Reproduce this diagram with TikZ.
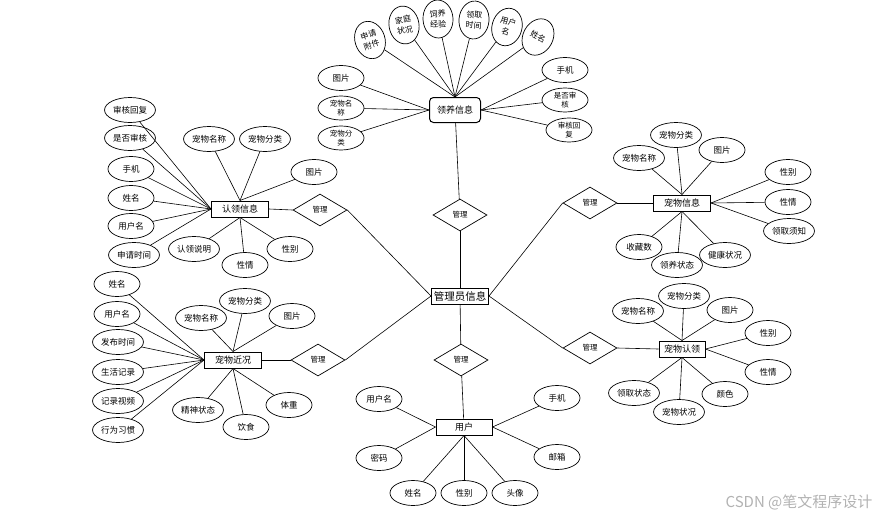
\documentclass[tikz,border=0pt]{standalone}
\usepackage{fontspec}
\setmainfont{Noto Sans CJK SC}
\usetikzlibrary{shapes.geometric,positioning}

\tikzset{
  attr/.style={ellipse, draw, line width=0.7pt, fill=white, inner sep=1pt,
    minimum width=46pt, minimum height=25pt, align=center,
    font=\fontsize{8.5}{9}\selectfont},
  attrtwo/.style={attr, inner sep=0pt, minimum height=24pt,
    font=\fontsize{7.5}{8.5}\selectfont},
  fanattr/.style={attr, inner sep=0pt, minimum width=30pt, minimum height=38pt,
    font=\fontsize{8}{10.5}\selectfont},
  entity/.style={rectangle, draw, line width=1pt, fill=white, inner sep=2pt,
    minimum width=57pt, minimum height=16pt, font=\fontsize{9}{10}\selectfont},
  rel/.style={diamond, draw, line width=0.7pt, fill=white, inner sep=0pt,
    minimum width=54pt, minimum height=32pt, font=\fontsize{7.5}{8}\selectfont},
  link/.style={draw, line width=0.6pt},
}

\begin{document}
\begin{tikzpicture}[x=1pt, y=-1pt]
  \useasboundingbox (0,0) rectangle (886,517);
  % Place central entity and relations
  \node [entity, font=\fontsize{10.5}{11}\selectfont] (gly) at (460,296) {管理员信息};
  \node [rel] (d-top) at (460,215) {管理};
  \node [rel] (d-bot) at (461,360) {管理};
  \node [rel] (d-lu) at (320,210) {管理};
  \node [rel] (d-ll) at (318,360) {管理};
  \node [rel] (d-ru) at (590,203) {管理};
  \node [rel] (d-rl) at (590,348) {管理};
  % Place entities
  \node [entity, rounded corners=4pt, minimum width=51pt, minimum height=25pt] (ly) at (455,110) {领养信息};
  \node [entity] (rl) at (240,209) {认领信息};
  \node [entity] (cj) at (233,360) {宠物近况};
  \node [entity] (cx) at (682,203) {宠物信息};
  \node [entity, minimum width=46pt] (cr) at (682,349) {宠物认领};
  \node [entity, minimum width=56pt] (yh) at (464,427) {用户};
  % Draw relation edges
  \path [link] (d-top) edge (ly) edge (gly);
  \path [link] (gly.west) edge (d-lu.east) edge (d-ll.east);
  \path [link] (gly.east) edge (d-ru.west) edge (d-rl.west);
  \path [link] (d-bot) edge (gly) edge (yh);
  \path [link] (d-lu.west) edge (rl.east);
  \path [link] (d-ll.west) edge (cj.east);
  \path [link] (d-ru.east) edge (cx.west);
  \path [link] (d-rl.east) edge (cr.west);

  % 领养信息
  \node [fanattr, rotate=18] (ly-sqfj) at (370,40) {申请\\附件};
  \node [fanattr, rotate=10] (ly-jtzk) at (404,25) {家庭\\状况};
  \node [fanattr, rotate=3] (ly-syjy) at (438,19) {饲养\\经验};
  \node [fanattr, rotate=-5] (ly-lqsj) at (474,20) {领取\\时间};
  \node [fanattr, rotate=-15] (ly-yhm) at (507,27) {用户\\名};
  \node [fanattr, rotate=-28] (ly-xm) at (538,37) {姓名};
  \node [attr] (ly-tp) at (341,78) {图片};
  \node [attrtwo] (ly-cwmc) at (341,108) {宠物名\\称};
  \node [attrtwo] (ly-cwfl) at (341,138) {宠物分\\类};
  \node [attr] (ly-sj) at (565,70) {手机};
  \node [attrtwo] (ly-sfsh) at (565,100) {是否审\\核};
  \node [attrtwo] (ly-shhf) at (569,130) {审核回\\复};
  \path [link] (ly.north) edge (ly-sqfj) edge (ly-jtzk) edge (ly-syjy)
    edge (ly-lqsj) edge (ly-yhm) edge (ly-xm);
  \path [link] (ly.west) edge (ly-tp) edge (ly-cwmc) edge (ly-cwfl);
  \path [link] (ly.east) edge (ly-sj) edge (ly-sfsh) edge (ly-shhf);

  % 认领信息
  \node [attr] (rl-shhf) at (130,110) {审核回复};
  \node [attr] (rl-sfsh) at (130,138) {是否审核};
  \node [attr] (rl-sj) at (131,169) {手机};
  \node [attr] (rl-xm) at (131,198) {姓名};
  \node [attr] (rl-yhm) at (131,226) {用户名};
  \node [attr] (rl-sqsj) at (134,255) {申请时间};
  \node [attr] (rl-cwmc) at (209,139) {宠物名称};
  \node [attr] (rl-cwfl) at (265,139) {宠物分类};
  \node [attr] (rl-tp) at (314,172) {图片};
  \node [attr] (rl-lysm) at (194,249) {认领说明};
  \node [attr] (rl-xq) at (245,265) {性情};
  \node [attr] (rl-xb) at (290,249) {性别};
  \path [link] (rl.west) edge (rl-shhf) edge (rl-sfsh) edge (rl-sj)
    edge (rl-xm) edge (rl-yhm) edge (rl-sqsj);
  \path [link] (rl.north) edge (rl-cwmc) edge (rl-cwfl) edge (rl-tp);
  \path [link] (rl.south) edge (rl-lysm) edge (rl-xq) edge (rl-xb);

  % 宠物近况
  \node [attr] (cj-xm) at (117,284) {姓名};
  \node [attr] (cj-yhm) at (117,314) {用户名};
  \node [attr] (cj-fbsj) at (118,342) {发布时间};
  \node [attr] (cj-shjl) at (118,372) {生活记录};
  \node [attr] (cj-jlsp) at (118,401) {记录视频};
  \node [attr] (cj-xwxg) at (118,430) {行为习惯};
  \node [attr] (cj-cwmc) at (201,318) {宠物名称};
  \node [attr] (cj-cwfl) at (245,301) {宠物分类};
  \node [attr] (cj-tp) at (292,316) {图片};
  \node [attr] (cj-jszt) at (198,410) {精神状态};
  \node [attr] (cj-ys) at (246,427) {饮食};
  \node [attr] (cj-tz) at (289,405) {体重};
  \path [link] (cj.west) edge (cj-xm) edge (cj-yhm) edge (cj-fbsj)
    edge (cj-shjl) edge (cj-jlsp) edge (cj-xwxg);
  \path [link] (cj.north) edge (cj-cwmc) edge (cj-cwfl) edge (cj-tp);
  \path [link] (cj.south) edge (cj-jszt) edge (cj-ys) edge (cj-tz);

  % 宠物信息
  \node [attr] (cx-cwmc) at (639,158) {宠物名称};
  \node [attr] (cx-cwfl) at (676,135) {宠物分类};
  \node [attr] (cx-tp) at (722,150) {图片};
  \node [attr] (cx-xb) at (788,172) {性别};
  \node [attr] (cx-xq) at (788,202) {性情};
  \node [attr] (cx-lqxz) at (789,231) {领取须知};
  \node [attr] (cx-scs) at (639,247) {收藏数};
  \node [attr] (cx-lyzt) at (677,265) {领养状态};
  \node [attr] (cx-jkzk) at (725,255) {健康状况};
  \path [link] (cx.north) edge (cx-cwmc) edge (cx-cwfl) edge (cx-tp);
  \path [link] (cx.east) edge (cx-xb) edge (cx-xq) edge (cx-lqxz);
  \path [link] (cx.south) edge (cx-scs) edge (cx-lyzt) edge (cx-jkzk);

  % 宠物认领
  \node [attr] (cr-cwmc) at (638,311) {宠物名称};
  \node [attr] (cr-cwfl) at (684,296) {宠物分类};
  \node [attr] (cr-tp) at (730,310) {图片};
  \node [attr] (cr-xb) at (768,333) {性别};
  \node [attr] (cr-xq) at (768,372) {性情};
  \node [attr] (cr-lqzt) at (634,393) {领取状态};
  \node [attr] (cr-cwzk) at (679,412) {宠物状况};
  \node [attr] (cr-ys) at (725,394) {颜色};
  \path [link] (cr.north) edge (cr-cwmc) edge (cr-cwfl) edge (cr-tp);
  \path [link] (cr.east) edge (cr-xb) edge (cr-xq);
  \path [link] (cr.south) edge (cr-lqzt) edge (cr-cwzk) edge (cr-ys);

  % 用户
  \node [attr] (yh-yhm) at (379,399) {用户名};
  \node [attr] (yh-mm) at (379,458) {密码};
  \node [attr] (yh-sj) at (557,398) {手机};
  \node [attr] (yh-yx) at (557,457) {邮箱};
  \node [attr] (yh-xm) at (413,493) {姓名};
  \node [attr] (yh-xb) at (464,493) {性别};
  \node [attr] (yh-tx) at (515,493) {头像};
  \path [link] (yh.west) edge (yh-yhm) edge (yh-mm);
  \path [link] (yh.east) edge (yh-sj) edge (yh-yx);
  \path [link] (yh.south) edge (yh-xm) edge (yh-xb) edge (yh-tx);

  % watermark
  \node [text=black!30, font=\fontsize{15}{16}\selectfont] (wm) at (799,502) {CSDN @笔文程序设计};
\end{tikzpicture}
\end{document}
